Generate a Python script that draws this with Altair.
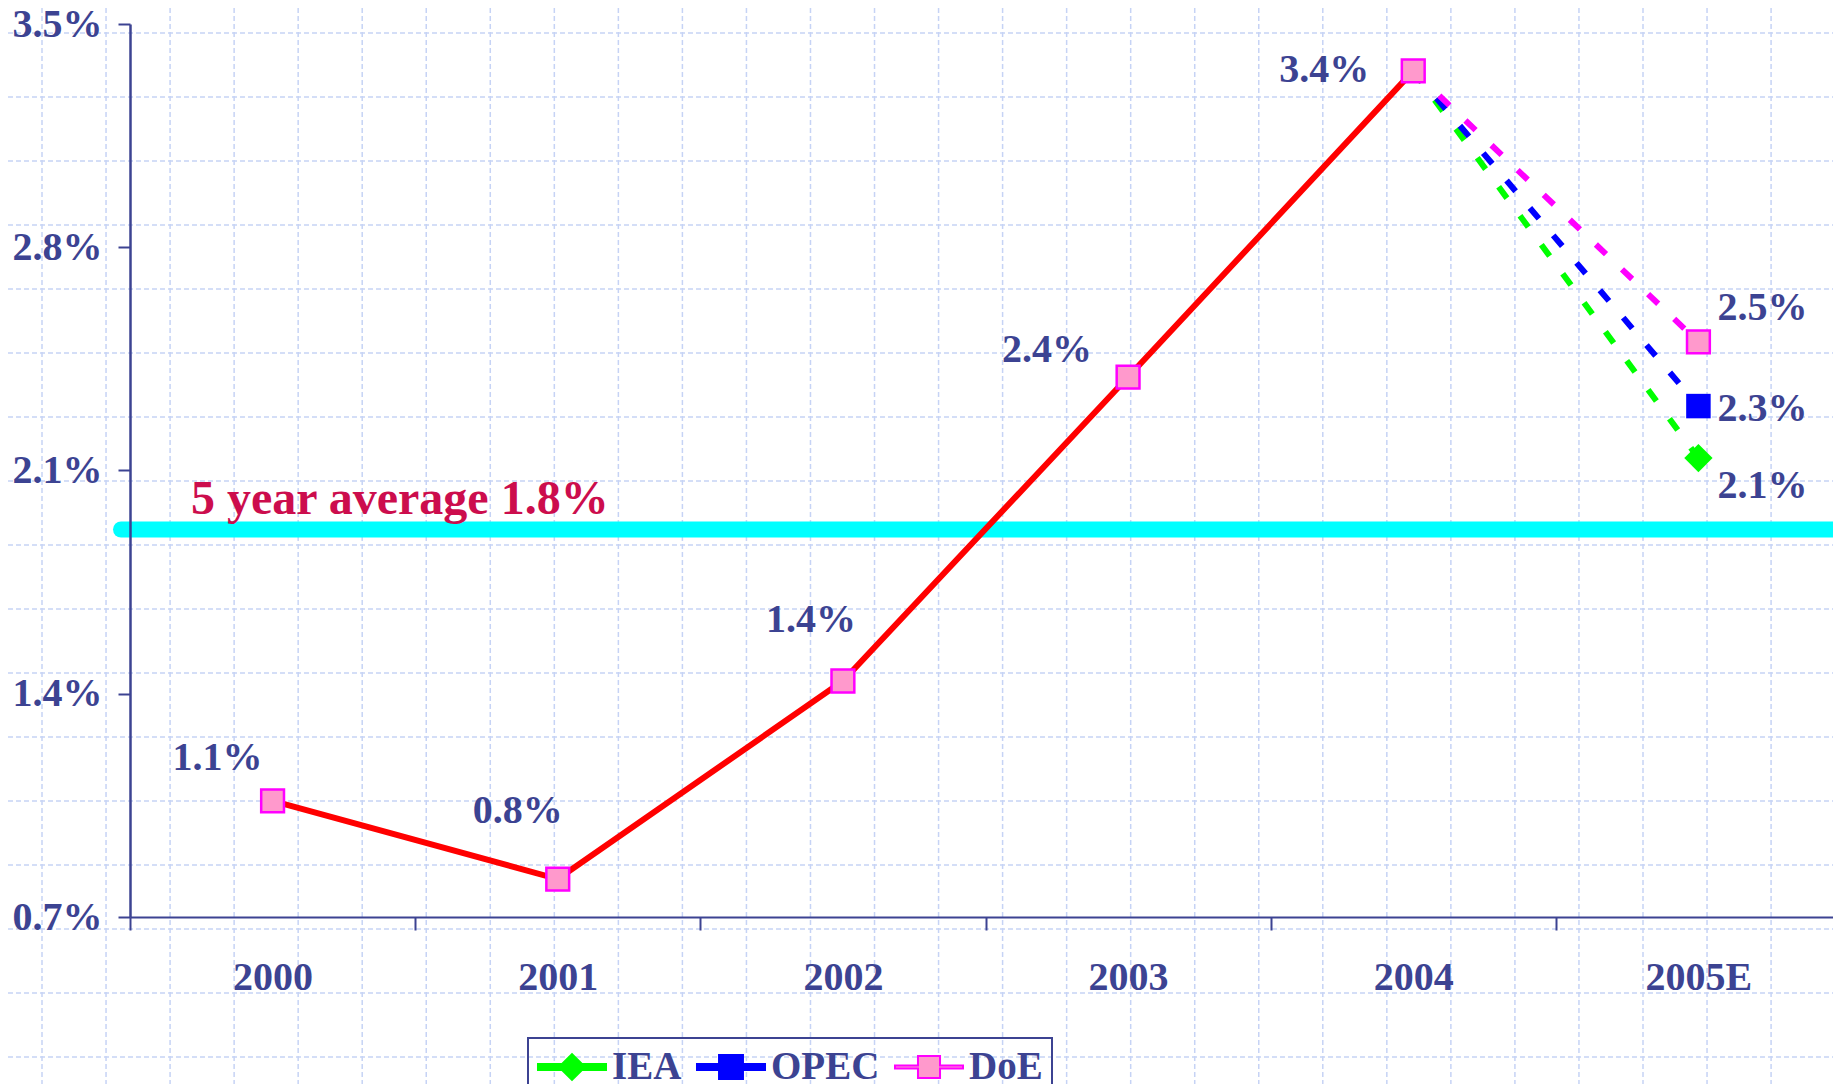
import altair as alt
import pandas as pd

# ---------------- data ----------------
years = ["2000", "2001", "2002", "2003", "2004", "2005E"]
actual_years = ["2000", "2001", "2002", "2003", "2004"]
actual_values = [1.064, 0.819, 1.44, 2.393, 3.353]
actual_labels = ["1.1%", "0.8%", "1.4%", "2.4%", "3.4%"]
sources = ["IEA", "OPEC", "DoE"]
forecast_values = [2.139, 2.302, 2.503]
forecast_labels = ["2.1%", "2.3%", "2.5%"]
avg_value = [1.915]
avg_label = ["5 year average 1.8%"]
y_ticks = [0.7, 1.4, 2.1, 2.8, 3.5]

# ---------------- styles ----------------
TEXT = "#3c4392"
FONT = "Liberation Serif"
FS = 40
GREEN, BLUE, MAGENTA, PINK = "#00ff00", "#0000ff", "#ff00ff", "#ff99cc"
LINE_COLORS = {"IEA": GREEN, "OPEC": BLUE, "DoE": MAGENTA}
W, H = 1703, 893
XR = 1711  # band range (last band runs to the window edge)

hist_df = pd.DataFrame({"year": actual_years, "value": actual_values, "label": actual_labels})
fc_pts = pd.DataFrame({"source": sources, "year": ["2005E"] * 3,
                       "value": forecast_values, "label": forecast_labels})
fc_lines = pd.DataFrame(
    [{"source": s, "year": actual_years[-1], "value": actual_values[-1]} for s in sources]
    + [{"source": s, "year": "2005E", "value": v} for s, v in zip(sources, forecast_values)]
)
pink_df = pd.concat([hist_df, fc_pts[fc_pts.source == "DoE"][["year", "value", "label"]]],
                    ignore_index=True)
avg_df = pd.DataFrame({"value": avg_value, "label": avg_label})

x_enc = alt.X(
    "year:N",
    scale=alt.Scale(type="band", domain=years, paddingInner=0, paddingOuter=0,
                    range=[0, XR]),
    bandPosition=0.5,
    axis=alt.Axis(title=None, labelAngle=0, labelFont=FONT, labelFontSize=FS,
                  labelFontWeight="bold", labelColor=TEXT, labelPadding=27,
                  tickBand="extent", tickSize=13, tickWidth=2, tickColor=TEXT,
                  domainColor=TEXT, domainWidth=2, grid=False, zindex=1),
)
y_enc = alt.Y(
    "value:Q",
    scale=alt.Scale(domain=[0.7, 3.5], nice=False, zero=False),
    axis=alt.Axis(title=None, values=y_ticks,
                  labelExpr="format(datum.value, '.1f') + '%'",
                  labelFont=FONT, labelFontSize=FS, labelFontWeight="bold",
                  labelColor=TEXT, labelPadding=16, tickSize=12, tickWidth=2,
                  tickColor=TEXT, domainColor=TEXT, domainWidth=2.5, grid=False,
                  zindex=1),
)

# ---------------- background grid (decoration) ----------------
grid_v = pd.DataFrame({"gx": [-88 + 64.04 * k for k in range(29)]})
grid_h = pd.DataFrame({"gy": [9 + 64 * k for k in range(17)]})
grid_style = dict(color="#c6d3f5", strokeWidth=1.5, strokeDash=[5, 3])
gv = alt.Chart(grid_v).mark_rule(**grid_style).encode(
    x=alt.X("gx:Q", scale=None, axis=None), y=alt.value(-24), y2=alt.value(1076))
gh = alt.Chart(grid_h).mark_rule(**grid_style).encode(
    y=alt.Y("gy:Q", scale=None, axis=None), x=alt.value(-130), x2=alt.value(XR + 10))

# ---------------- main layers ----------------
avg_rule = alt.Chart(avg_df).mark_rule(color="#00ffff", strokeWidth=16, strokeCap="round").encode(
    y=y_enc, x=alt.value(-9), x2=alt.value(XR + 10))
avg_text = alt.Chart(avg_df).mark_text(
    align="left", baseline="alphabetic", dy=-16, font=FONT, fontSize=48,
    fontWeight="bold", color="#cc0d4d").encode(y=y_enc, x=alt.value(61), text="label:N")

red_line = alt.Chart(hist_df).mark_line(color="#ff0000", strokeWidth=6).encode(x=x_enc, y=y_enc)

dash_layers = [
    alt.Chart(fc_lines).transform_filter(alt.datum.source == s)
    .mark_line(strokeWidth=6, strokeDash=[14, 22], color=LINE_COLORS[s])
    .encode(x=x_enc, y=y_enc, order=alt.Order("year:N"))
    for s in sources
]

iea_pt = alt.Chart(fc_pts).transform_filter(alt.datum.source == "IEA").mark_point(
    shape="diamond", filled=True, size=800, color=GREEN, opacity=1).encode(x=x_enc, y=y_enc)
opec_pt = alt.Chart(fc_pts).transform_filter(alt.datum.source == "OPEC").mark_point(
    shape="square", filled=True, size=600, color=BLUE, opacity=1).encode(x=x_enc, y=y_enc)
pink_pts = alt.Chart(pink_df).mark_point(
    shape="square", filled=True, size=520, fill=PINK, stroke=MAGENTA, strokeWidth=2.5,
    opacity=1).encode(x=x_enc, y=y_enc)

label_offsets = {
    "2000": (-55, -43), "2001": (-40, -68), "2002": (-32, -61),
    "2003": (-81, -27), "2004": (-89, -1),
    "DoE": (64, -34), "OPEC": (64, 3), "IEA": (64, 28),
}
text_style = dict(align="center", baseline="middle", font=FONT, fontSize=FS,
                  fontWeight="bold", color=TEXT)
label_layers = []
for yr in actual_years:
    dx, dy = label_offsets[yr]
    label_layers.append(
        alt.Chart(hist_df).transform_filter(alt.datum.year == yr)
        .mark_text(dx=dx, dy=dy, **text_style)
        .encode(x=x_enc, y=y_enc, text="label:N"))
for s in sources:
    dx, dy = label_offsets[s]
    label_layers.append(
        alt.Chart(fc_pts).transform_filter(alt.datum.source == s)
        .mark_text(dx=dx, dy=dy, **text_style)
        .encode(x=x_enc, y=y_enc, text="label:N"))

# ---------------- legend (library legend with combined line+marker symbols) ----------------
L, t, d, q, tq, sq = 1.79, 0.158, 0.68, 0.63, 0.08, 0.58
def fmt(v):
    return f"{v:.3f}"
iea_path = ("M{a},{b}L{c},{b}L0,{e}L{f},{b}L{g},{b}L{g},{h}L{f},{h}L0,{i}L{c},{h}L{a},{h}Z"
            .format(a=fmt(-L), b=fmt(-t), c=fmt(-(d - t)), e=fmt(-d), f=fmt(d - t),
                    g=fmt(L), h=fmt(t), i=fmt(d)))
def sq_path(th, s):
    return ("M{a},{b}L{c},{b}L{c},{e}L{f},{e}L{f},{b}L{g},{b}L{g},{h}L{f},{h}L{f},{i}"
            "L{c},{i}L{c},{h}L{a},{h}Z").format(a=fmt(-L), b=fmt(-th), c=fmt(-s), e=fmt(-s),
                                               f=fmt(s), g=fmt(L), h=fmt(th), i=fmt(s))
opec_path = sq_path(t, q)
doe_path = sq_path(tq, sq)

leg = alt.Legend(title=None, orient="none", legendX=398, legendY=1014,
                 direction="horizontal", symbolSize=1444, symbolOffset=15,
                 labelOffset=20, labelFont=FONT, labelFontSize=39,
                 labelFontWeight="bold", labelColor=TEXT, labelLimit=400,
                 columnPadding=10, padding=9, strokeColor=TEXT,
                 symbolStrokeWidth=2)
leg_df = pd.DataFrame({"source": sources})
legend_layer = alt.Chart(leg_df).mark_point(filled=True, opacity=1).encode(
    x=alt.value(-3000), y=alt.value(-3000),
    shape=alt.Shape("source:N", scale=alt.Scale(domain=sources,
                    range=[iea_path, opec_path, doe_path]), legend=leg),
    fill=alt.Fill("source:N", scale=alt.Scale(domain=sources, range=[GREEN, BLUE, PINK]),
                  legend=leg),
    stroke=alt.Stroke("source:N", scale=alt.Scale(domain=sources,
                      range=[GREEN, BLUE, MAGENTA]), legend=leg),
)

main = alt.layer(avg_rule, avg_text, red_line, *dash_layers, iea_pt, opec_pt, pink_pts,
                 *label_layers, legend_layer)

chart = alt.layer(alt.layer(gv, gh), main).resolve_scale(
    x="independent", y="independent"
).properties(
    width=W, height=H,
    padding={"left": 122, "top": 16, "right": 0, "bottom": 167},
    autosize=alt.AutoSizeParams(type="none"),
    background="white",
).configure_view(stroke=None).configure_legend(strokeWidth=2)

chart.save("out.html", embed_options={"renderer": "svg", "actions": False})
